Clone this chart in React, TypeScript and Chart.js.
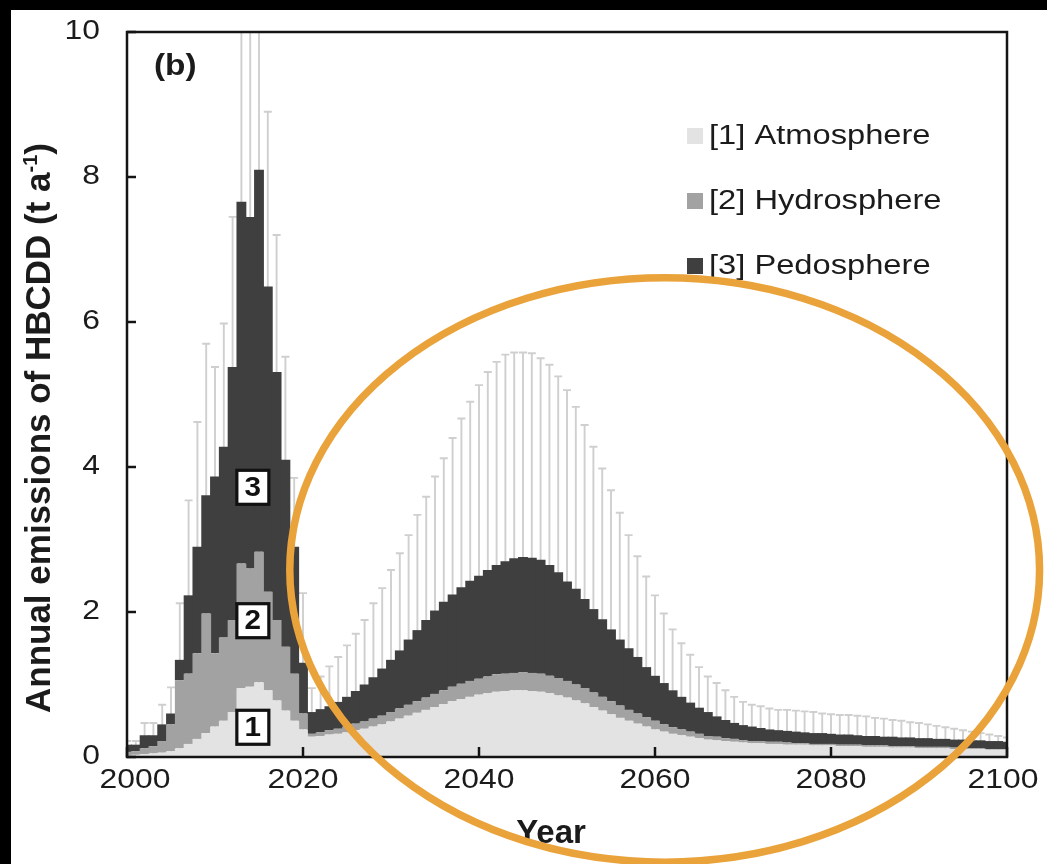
import React, { useEffect, useRef } from 'react';
import { Chart, registerables } from 'chart.js';

Chart.register(...registerables);

const FIRST_YEAR = 2000;
const LAST_YEAR = 2100;
const years: number[] = Array.from({ length: LAST_YEAR - FIRST_YEAR + 1 }, (_, i) => FIRST_YEAR + i);

const seriesNames = ['[1] Atmosphere', '[2] Hydrosphere', '[3] Pedosphere'];

// t/a per year, 2000 ... 2100
const atmosphere = [
  0.02, 0.03, 0.04, 0.05, 0.06, 0.08, 0.12, 0.18, 0.25, 0.33,
  0.42, 0.50, 0.62, 0.95, 0.97, 1.03, 0.92, 0.78, 0.64, 0.50,
  0.38,
  0.28, 0.29, 0.31, 0.32, 0.34, 0.37, 0.39, 0.42, 0.45, 0.49,
  0.53, 0.57, 0.61, 0.65, 0.69, 0.73, 0.77, 0.80, 0.83, 0.86,
  0.88, 0.90, 0.91, 0.92, 0.92, 0.91, 0.90, 0.88, 0.85, 0.82,
  0.78, 0.74, 0.69, 0.64, 0.59, 0.54, 0.50, 0.46, 0.42, 0.38,
  0.35, 0.32, 0.30, 0.28, 0.26, 0.24, 0.23, 0.22, 0.21, 0.20,
  0.19, 0.19, 0.18, 0.18, 0.17, 0.17, 0.17, 0.16, 0.16, 0.16,
  0.15, 0.15, 0.15, 0.14, 0.14, 0.14, 0.13, 0.13, 0.13, 0.12,
  0.12, 0.12, 0.12, 0.11, 0.11, 0.11, 0.11, 0.10, 0.10, 0.10,
];

const hydrosphere = [
  0.05, 0.05, 0.08, 0.10, 0.16, 0.37, 0.94, 0.97, 1.18, 1.65,
  1.01, 1.15, 1.27, 1.72, 1.63, 1.80, 1.36, 1.11, 0.88, 0.65,
  0.22,
  0.04, 0.05, 0.06, 0.07, 0.08, 0.09, 0.10, 0.11, 0.12, 0.13,
  0.14, 0.15, 0.16, 0.17, 0.18, 0.19, 0.20, 0.21, 0.22, 0.22,
  0.23, 0.24, 0.24, 0.24, 0.25, 0.25, 0.25, 0.24, 0.24, 0.23,
  0.22, 0.21, 0.20, 0.19, 0.18, 0.17, 0.15, 0.14, 0.13, 0.12,
  0.10, 0.09, 0.08, 0.07, 0.06, 0.05, 0.05, 0.04, 0.04, 0.03,
  0.03, 0.03, 0.03, 0.03, 0.03, 0.02, 0.02, 0.02, 0.02, 0.02,
  0.02, 0.02, 0.02, 0.02, 0.02, 0.02, 0.02, 0.02, 0.02, 0.02,
  0.02, 0.02, 0.02, 0.02, 0.02, 0.01, 0.01, 0.01, 0.01, 0.01,
];

const pedosphere = [
  0.10, 0.09, 0.18, 0.15, 0.23, 0.15, 0.28, 1.08, 1.47, 1.63,
  2.44, 2.63, 3.49, 4.99, 4.85, 5.27, 4.21, 3.42, 2.58, 1.75,
  0.70,
  0.30, 0.32, 0.33, 0.37, 0.41, 0.45, 0.51, 0.57, 0.65, 0.72,
  0.80, 0.90, 0.98, 1.07, 1.15, 1.22, 1.27, 1.33, 1.38, 1.42,
  1.47, 1.51, 1.55, 1.58, 1.59, 1.59, 1.57, 1.53, 1.46, 1.37,
  1.32, 1.23, 1.15, 1.07, 0.99, 0.91, 0.85, 0.78, 0.69, 0.62,
  0.57, 0.51, 0.45, 0.40, 0.36, 0.33, 0.28, 0.25, 0.22, 0.21,
  0.20, 0.18, 0.17, 0.16, 0.16, 0.16, 0.15, 0.15, 0.15, 0.14,
  0.14, 0.14, 0.13, 0.13, 0.13, 0.12, 0.13, 0.12, 0.12, 0.12,
  0.12, 0.11, 0.11, 0.11, 0.11, 0.11, 0.11, 0.11, 0.11, 0.10,
];

// upper end of the uncertainty bar (absolute value, t/a)
const upperError = [
  0.22, 0.22, 0.47, 0.47, 0.72, 0.96, 2.12, 3.54, 4.62, 5.70,
  5.38, 5.98, 7.45, 12.0, 12.0, 12.0, 8.90, 7.20, 5.52, 3.85,
  2.26,
  0.95, 1.11, 1.25, 1.38, 1.54, 1.70, 1.89, 2.12, 2.33, 2.58,
  2.81, 3.06, 3.34, 3.59, 3.87, 4.12, 4.40, 4.67, 4.90, 5.13,
  5.31, 5.45, 5.55, 5.58, 5.58, 5.57, 5.50, 5.41, 5.25, 5.06,
  4.83, 4.58, 4.28, 3.98, 3.68, 3.37, 3.06, 2.77, 2.49, 2.23,
  1.98, 1.76, 1.57, 1.41, 1.24, 1.11, 1.02, 0.92, 0.83, 0.76,
  0.72, 0.70, 0.67, 0.65, 0.65, 0.64, 0.63, 0.62, 0.60, 0.59,
  0.58, 0.58, 0.57, 0.56, 0.54, 0.53, 0.51, 0.50, 0.48, 0.47,
  0.45, 0.43, 0.41, 0.39, 0.37, 0.35, 0.33, 0.31, 0.29, 0.27,
];

const yTickValues = [0, 2, 4, 6, 8, 10];
const xTickValues = [2000, 2020, 2040, 2060, 2080, 2100];
const yAxisTitle = 'Annual emissions of HBCDD (t a';
const yAxisTitleSup = '-1';
const yAxisTitleEnd = ')';
const xAxisTitle = 'Year';
const panelLabel = '(b)';
const compartmentMarks = ['1', '2', '3'];
const compartmentMarkYear = 2014.3;
const compartmentMarkValues = [0.41, 1.88, 3.72];
const highlightCenter = { year: 2061.1, value: 2.58 };
const highlightRadius = { years: 42.6, value: 4.03 };

const COLORS = {
  atmosphere: '#e3e3e3',
  hydrosphere: '#a2a2a2',
  pedosphere: '#3f3f3f',
  error: '#cfcfcf',
  orange: '#e9a33a',
  text: '#1b1b1b',
  axis: '#141414',
};

const SANS = '"Liberation Sans", Arial, Helvetica, sans-serif';

function drawStretched(ctx: CanvasRenderingContext2D, text: string, x: number, y: number, font: string,
  align: CanvasTextAlign, sx: number) {
  ctx.save();
  ctx.font = font;
  ctx.textBaseline = 'middle';
  ctx.textAlign = align;
  ctx.translate(x, y);
  ctx.scale(sx, 1);
  ctx.fillText(text, 0, 0);
  ctx.restore();
}

const decorPlugin = {
  id: 'decor',
  beforeDraw(chart: any) {
    const { ctx, width, height } = chart;
    ctx.save();
    ctx.fillStyle = '#000000';
    ctx.fillRect(0, 0, width, height);
    ctx.fillStyle = '#ffffff';
    ctx.fillRect(11, 10, width - 11, height - 10);
    ctx.restore();
  },
  beforeDatasetsDraw(chart: any) {
    const { ctx, chartArea, scales } = chart;
    const x = scales.x;
    const y = scales.y;
    ctx.save();
    ctx.beginPath();
    ctx.rect(chartArea.left, chartArea.top, chartArea.right - chartArea.left, chartArea.bottom - chartArea.top);
    ctx.clip();
    ctx.strokeStyle = COLORS.error;
    ctx.lineWidth = 1.9;
    const base = y.getPixelForValue(0);
    years.forEach((yr, i) => {
      const px = x.getPixelForValue(yr);
      const top = y.getPixelForValue(upperError[i]);
      ctx.beginPath();
      ctx.moveTo(px, base);
      ctx.lineTo(px, top);
      ctx.moveTo(px - 4, top);
      ctx.lineTo(px + 4, top);
      ctx.stroke();
    });
    ctx.restore();
  },
  afterDatasetsDraw(chart: any) {
    const { ctx, chartArea, scales } = chart;
    const x = scales.x;
    const y = scales.y;
    const { left, right, top, bottom } = chartArea;

    // frame
    ctx.save();
    ctx.strokeStyle = COLORS.axis;
    ctx.lineWidth = 2.5;
    ctx.strokeRect(left, top, right - left, bottom - top);

    // inward ticks
    yTickValues.forEach((v) => {
      const py = y.getPixelForValue(v);
      ctx.beginPath();
      ctx.moveTo(left, py);
      ctx.lineTo(left + 9, py);
      ctx.stroke();
    });
    xTickValues.forEach((v) => {
      const px = x.getPixelForValue(v);
      ctx.beginPath();
      ctx.moveTo(px, bottom);
      ctx.lineTo(px, bottom - 10);
      ctx.stroke();
    });

    // tick labels
    ctx.fillStyle = COLORS.text;
    const tickFont = `27px ${SANS}`;
    yTickValues.forEach((v) => {
      drawStretched(ctx, String(v), 100, y.getPixelForValue(v), tickFont, 'right', 1.18);
    });
    xTickValues.forEach((v, i) => {
      const shift = i === 0 ? 8 : i === xTickValues.length - 1 ? -4 : 0;
      drawStretched(ctx, String(v), x.getPixelForValue(v) + shift, bottom + 24, tickFont, 'center', 1.18);
    });

    // axis titles
    drawStretched(ctx, xAxisTitle, 551, 834, `bold 33px ${SANS}`, 'center', 1.0);

    ctx.save();
    ctx.translate(40, 428);
    ctx.rotate(-Math.PI / 2);
    ctx.textBaseline = 'middle';
    ctx.textAlign = 'left';
    const mainFont = `bold 35px ${SANS}`;
    const supFont = `bold 20px ${SANS}`;
    ctx.font = mainFont;
    const w1 = ctx.measureText(yAxisTitle).width;
    ctx.font = supFont;
    const w2 = ctx.measureText(yAxisTitleSup).width;
    ctx.font = mainFont;
    const w3 = ctx.measureText(yAxisTitleEnd).width;
    const total = w1 + w2 + w3;
    let cx = -total / 2;
    ctx.fillText(yAxisTitle, cx, 0);
    cx += w1;
    ctx.font = supFont;
    ctx.fillText(yAxisTitleSup, cx, -9);
    cx += w2;
    ctx.font = mainFont;
    ctx.fillText(yAxisTitleEnd, cx, 0);
    ctx.restore();

    // panel label
    drawStretched(ctx, panelLabel, 154, 67, `bold 29px ${SANS}`, 'left', 1.15);

    // compartment number boxes
    compartmentMarks.forEach((m, i) => {
      const cxp = x.getPixelForValue(compartmentMarkYear);
      const cyp = y.getPixelForValue(compartmentMarkValues[i]);
      ctx.fillStyle = '#ffffff';
      ctx.fillRect(cxp - 16, cyp - 17, 32, 34);
      ctx.strokeStyle = '#111111';
      ctx.lineWidth = 3.2;
      ctx.strokeRect(cxp - 16, cyp - 17, 32, 34);
      ctx.fillStyle = '#111111';
      drawStretched(ctx, m, cxp, cyp + 1, `bold 27px ${SANS}`, 'center', 1.1);
    });

    // legend
    const colors = [COLORS.atmosphere, COLORS.hydrosphere, COLORS.pedosphere];
    seriesNames.forEach((name, i) => {
      const rowY = 136 + i * 65;
      ctx.fillStyle = colors[i];
      ctx.fillRect(687, rowY - 8, 16, 16);
      ctx.fillStyle = COLORS.text;
      drawStretched(ctx, name, 709, rowY + 1, `27px ${SANS}`, 'left', 1.21);
    });

    // highlight ellipse
    const ex = x.getPixelForValue(highlightCenter.year);
    const ey = y.getPixelForValue(highlightCenter.value);
    const rx = x.getPixelForValue(highlightCenter.year + highlightRadius.years) - ex;
    const ry = ey - y.getPixelForValue(highlightCenter.value + highlightRadius.value);
    ctx.beginPath();
    ctx.ellipse(ex, ey, rx, ry, 0, 0, Math.PI * 2);
    ctx.strokeStyle = COLORS.orange;
    ctx.lineWidth = 7.5;
    ctx.stroke();
    ctx.restore();
  },
};

export default function App() {
  const canvasRef = useRef<HTMLCanvasElement | null>(null);

  useEffect(() => {
    if (!canvasRef.current) return;
    const mk = (label: string, values: number[], color: string) => ({
      label,
      data: years.map((yr, i) => ({ x: yr, y: values[i] })),
      backgroundColor: color,
      borderWidth: 0,
      inflateAmount: 0,
      barPercentage: 1.12,
      categoryPercentage: 1.0,
      stack: 'emissions',
    });

    const chart = new Chart(canvasRef.current, {
      type: 'bar',
      data: {
        datasets: [
          mk(seriesNames[0], atmosphere, COLORS.atmosphere),
          mk(seriesNames[1], hydrosphere, COLORS.hydrosphere),
          mk(seriesNames[2], pedosphere, COLORS.pedosphere),
        ],
      },
      options: {
        animation: false,
        responsive: false,
        maintainAspectRatio: false,
        layout: { padding: { top: 32, right: 40, left: 0, bottom: 0 } },
        plugins: {
          legend: { display: false },
          tooltip: { enabled: false },
          title: { display: false },
        },
        scales: {
          x: {
            type: 'linear',
            min: FIRST_YEAR,
            max: LAST_YEAR,
            offset: false,
            stacked: true,
            grid: { display: false, drawTicks: false },
            border: { display: false },
            ticks: { display: false, stepSize: 20 },
            afterFit: (s: any) => { s.height = 107; },
          },
          y: {
            stacked: true,
            min: 0,
            max: 10,
            grid: { display: false, drawTicks: false },
            border: { display: false },
            ticks: { display: false, stepSize: 2 },
            afterFit: (s: any) => { s.width = 127; },
          },
        },
      } as any,
      plugins: [decorPlugin],
    });
    return () => chart.destroy();
  }, []);

  return (
    <div style={{ position: 'fixed', left: 0, top: 0, width: 1047, height: 864, background: '#000' }}>
      <canvas ref={canvasRef} width={1047} height={864} style={{ display: 'block' }} />
    </div>
  );
}
